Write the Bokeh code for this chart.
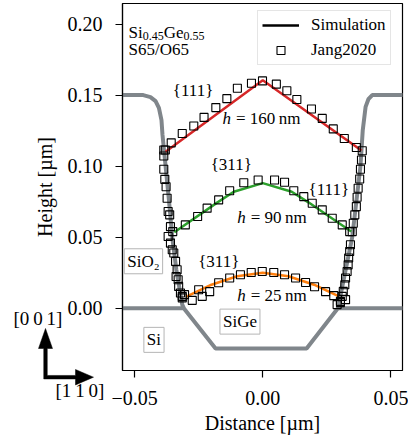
import numpy as np
from bokeh.plotting import figure
from bokeh.layouts import column
from bokeh.models import (Range1d, FixedTicker, CustomJSTickFormatter, Legend, LegendItem, Label)
from bokeh.core.properties import value
from bokeh.embed import file_html
from bokeh.resources import INLINE

# ---------------- data (µm) ----------------
oxide_left_x = [-0.0600, -0.0466, -0.0438, -0.0418, -0.0405, -0.0395, -0.0391, -0.0379, -0.0366, -0.0353, -0.0337, -0.0314, -0.0308]
oxide_left_y = [0.150, 0.150, 0.1486, 0.1458, 0.1410, 0.1324, 0.1220, 0.1000, 0.0762, 0.0500, 0.0270, 0.0025, 0.0]
oxide_right_x = [0.0293, 0.0296, 0.0349, 0.0381, 0.0390, 0.0401, 0.0412, 0.0427, 0.0600]
oxide_right_y = [0.0, 0.0025, 0.0500, 0.1000, 0.1253, 0.1417, 0.1471, 0.1500, 0.1500]
substrate_x = [-0.0600, -0.0308, -0.0184, 0.0171, 0.0293, 0.0600]
substrate_y = [0.0, 0.0, -0.0284, -0.0284, 0.0, 0.0]

sim160_x = [-0.0379, 0.0, 0.0385]
sim160_y = [0.1101, 0.1605, 0.1110]
sim90_x = [-0.0345, -0.0178, -0.0113, 0.0, 0.0113, 0.0178, 0.0345]
sim90_y = [0.0535, 0.0743, 0.0820, 0.0880, 0.0820, 0.0745, 0.0540]
sim25_x = [-0.0300, -0.0200, -0.0100, 0.0, 0.0100, 0.0200, 0.0295]
sim25_y = [0.0080, 0.0165, 0.0225, 0.0250, 0.0225, 0.0165, 0.0085]

wall_left_x = [-0.0386, -0.0386, -0.0386, -0.0382, -0.0377, -0.0373, -0.0369, -0.0363, -0.0360, -0.0351, -0.0369,
               -0.0360, -0.0353, -0.0347, -0.0340, -0.0334, -0.0338, -0.0330, -0.0328, -0.0321, -0.0314, -0.0305]
wall_left_y = [0.1113, 0.1071, 0.0978, 0.0907, 0.0855, 0.0774, 0.0680, 0.0657, 0.0574, 0.0539, 0.0504,
               0.0458, 0.0411, 0.0388, 0.0329, 0.0270, 0.0223, 0.0200, 0.0153, 0.0107, 0.0072, 0.0095]
wall_right_x = [0.0388, 0.0385, 0.0381, 0.0378, 0.0372, 0.0368, 0.0365, 0.0359, 0.0353, 0.0349, 0.0342,
                0.0339, 0.0335, 0.0333, 0.0329, 0.0323, 0.0320, 0.0314, 0.0310, 0.0303, 0.0323, 0.0290]
wall_right_y = [0.1108, 0.1043, 0.0978, 0.0909, 0.0844, 0.0781, 0.0715, 0.0657, 0.0598, 0.0539, 0.0446,
                0.0399, 0.0353, 0.0305, 0.0258, 0.0212, 0.0165, 0.0118, 0.0083, 0.0048, 0.0060, 0.0025]
exp160_x = [-0.0380, -0.0357, -0.0314, -0.0269, -0.0229, -0.0183, -0.0140, -0.0099, -0.0044, -0.0001,
            0.0053, 0.0094, 0.0133, 0.0190, 0.0232, 0.0275, 0.0318, 0.0365]
exp160_y = [0.1113, 0.1164, 0.1230, 0.1282, 0.1343, 0.1412, 0.1475, 0.1548, 0.1584, 0.1600,
            0.1577, 0.1531, 0.1469, 0.1402, 0.1336, 0.1262, 0.1195, 0.1131]
exp90_x = [-0.0302, -0.0254, -0.0217, -0.0172, -0.0129, -0.0074, -0.0018, 0.0046, 0.0085, 0.0121,
           0.0160, 0.0193, 0.0232, 0.0271, 0.0310, 0.0339]
exp90_y = [0.0586, 0.0645, 0.0704, 0.0762, 0.0827, 0.0883, 0.0902, 0.0902, 0.0886, 0.0827,
           0.0785, 0.0739, 0.0692, 0.0633, 0.0586, 0.0539]
exp25_x = [-0.0314, -0.0275, -0.0250, -0.0236, -0.0207, -0.0172, -0.0129, -0.0087, -0.0045, -0.0002,
           0.0043, 0.0085, 0.0128, 0.0167, 0.0202, 0.0245, 0.0277, 0.0303]
exp25_y = [0.0083, 0.0055, 0.0130, 0.0083, 0.0116, 0.0179, 0.0212, 0.0235, 0.0251, 0.0258,
           0.0251, 0.0235, 0.0212, 0.0181, 0.0151, 0.0116, 0.0088, 0.0039]

x_ticks = [-0.05, 0.0, 0.05]
y_ticks = [0.0, 0.05, 0.10, 0.15, 0.20]
orient_labels = ["[0\u20090\u20091]", "[1\u20091\u20090]"]

SERIF = "Liberation Serif"
GRAY = "#80868b"

X0, X1 = -0.0547, 0.0545
Y0, Y1 = -0.0439, 0.2145
W, H = 408, 436
ML, MR, MT, MB = 122, 6, 3, 65

p = figure(width=W, height=H, output_backend="svg", toolbar_location=None,
           x_range=Range1d(X0, X1), y_range=Range1d(Y0, Y1),
           min_border_left=ML, min_border_right=MR, min_border_top=MT, min_border_bottom=MB)
p.background_fill_color = "white"
p.border_fill_color = "white"
p.outline_line_color = "black"
p.outline_line_width = 1.2
p.xgrid.visible = False
p.ygrid.visible = False

fmt = CustomJSTickFormatter(code="return tick.toFixed(2).replace('-', '\u2212');")
for ax, ticks in ((p.xaxis, x_ticks), (p.yaxis, y_ticks)):
    ax.ticker = FixedTicker(ticks=ticks)
    ax.formatter = fmt
    ax.major_label_text_font = SERIF
    ax.major_label_text_font_size = "20px"
    ax.major_label_text_color = "black"
    ax.axis_label_text_font = SERIF
    ax.axis_label_text_font_size = "20px"
    ax.axis_label_text_font_style = "normal"
    ax.axis_label_text_color = "black"
    ax.major_tick_out = 7
    ax.major_tick_in = 0
    ax.minor_tick_line_color = None
    ax.axis_line_width = 1.2
    ax.major_tick_line_width = 1.2
p.xaxis.axis_label = "Distance [µm]"
p.yaxis.axis_label = "Height [µm]"
p.xaxis.major_label_standoff = 13
p.xaxis.axis_label_standoff = 4
p.yaxis.major_label_standoff = 13
p.yaxis.axis_label_standoff = 9

# geometry
p.line(oxide_left_x, oxide_left_y, color=GRAY, line_width=4)
p.line(oxide_right_x, oxide_right_y, color=GRAY, line_width=4)
p.line(substrate_x, substrate_y, color=GRAY, line_width=4)

# simulation
p.line(sim160_x, sim160_y, color="#d62728", line_width=2.5)
p.line(sim90_x, sim90_y, color="#2ca02c", line_width=2.5)
p.line(sim25_x, sim25_y, color="#ff7f0e", line_width=2.5)
sim_legend = p.line([np.nan, np.nan], [np.nan, np.nan], color="black", line_width=2.5)

# experiment
mk = dict(marker="square", size=8, line_color="black", line_width=1.1, fill_alpha=0)
exp_r = None
for xs, ys in ((wall_left_x, wall_left_y), (wall_right_x, wall_right_y), (exp160_x, exp160_y),
               (exp90_x, exp90_y), (exp25_x, exp25_y)):
    r = p.scatter(xs, ys, **mk)
    if exp_r is None:
        exp_r = r

legend = Legend(items=[LegendItem(label="Simulation", renderers=[sim_legend]),
                       LegendItem(label="Jang2020", renderers=[exp_r])],
                location=(135, 305), margin=0, padding=4, spacing=5,
                glyph_width=37, glyph_height=20, label_height=20, label_standoff=12,
                label_text_font=SERIF, label_text_font_size="17px", label_text_color="black",
                border_line_color="#cccccc", border_line_width=1,
                background_fill_color="white", background_fill_alpha=0.85)
p.add_layout(legend, "center")

FS = "17px"


def lab(x, y, text, size=FS, style="normal", align="left", xo=0, yo=0, **kw):
    p.add_layout(Label(x=x, y=y, text=text, text_font=SERIF, text_font_size=size,
                       text_font_style=style, text_align=align, text_baseline="middle",
                       x_offset=xo, y_offset=yo, text_color="black", **kw))


lab(-0.05238, 0.1944, "Si")
lab(-0.05238, 0.1944, "0.45", size="12px", xo=14.2, yo=-4)
lab(-0.05238, 0.1944, "Ge", xo=35.2)
lab(-0.05238, 0.1944, "0.55", size="12px", xo=55, yo=-4)
lab(-0.05238, 0.1822, "S65/O65")

lab(-0.0272, 0.1534, "{111}", align="center")
lab(-0.01572, 0.1336, "h", style="italic")
lab(-0.01572, 0.1336, "= 160\u2009nm", xo=13.5)
lab(-0.01229, 0.1008, "{311}", align="center")
lab(0.02574, 0.0837, "{111}", align="center")
lab(-0.00998, 0.0638, "h", style="italic")
lab(-0.00998, 0.0638, "= 90\u2009nm", xo=13.5)
lab(-0.01716, 0.0329, "{311}", align="center")
lab(-0.00998, 0.0088, "h", style="italic")
lab(-0.00998, 0.0088, "= 25\u2009nm", xo=13.5)

box = dict(background_fill_color="white", border_line_color="#b5b5b5", border_line_width=1, padding=3)
lab(-0.04653, 0.0330, "SiO\u2082", align="center", **box)
lab(-0.00889, -0.00948, "SiGe", align="center", **box)
lab(-0.04243, -0.02233, "Si", align="center", **box)

# ---- crystal orientation indicator: transparent full-width overlay in the same data scale ----
sx_per = (W - ML - MR) / (X1 - X0)
sy_per = (H - MT - MB) / (Y1 - Y0)


def px2d(px, py):
    return X0 + (px - ML) / sx_per, Y1 - (py - MT) / sy_per


OV_Y, OV_H = 305, 95
ov_x0, ov_y1 = px2d(0, OV_Y)
ov_x1, ov_y0 = px2d(W, OV_Y + OV_H)
ov = figure(width=W, height=OV_H, output_backend="svg", toolbar_location=None,
            x_range=Range1d(ov_x0, ov_x1), y_range=Range1d(ov_y0, ov_y1),
            x_axis_type=None, y_axis_type=None,
            min_border=0, min_border_left=0, min_border_right=0, min_border_top=0, min_border_bottom=0,
            margin=(OV_Y - H, 0, 0, 0))
for fig in (p, ov):
    if hasattr(fig, "frame_align"):
        fig.frame_align = False
ov.outline_line_color = None
ov.background_fill_alpha = 0
ov.border_fill_alpha = 0
ov.xgrid.visible = False
ov.ygrid.visible = False

arrow_px = [(43.25, 378.45), (43.25, 348), (38, 348), (45, 328), (52, 348), (46.75, 348),
            (46.75, 374.95), (75, 374.95), (75, 369), (93, 376.7), (75, 384.4), (75, 378.45)]
axy = [px2d(a, b) for a, b in arrow_px]
ov.patch([a for a, _ in axy], [b for _, b in axy], fill_color="black", line_color="black", line_width=0.5)

lab_pos = [px2d(13, 318), px2d(55, 390)]
ov.text(x=[a for a, _ in lab_pos], y=[b for _, b in lab_pos], text=orient_labels,
        text_font=value(SERIF), text_font_size="19px", text_baseline="middle", text_align="left",
        text_color="black")

layout = column(p, ov, spacing=0)
open("out.html", "w").write(file_html(layout, INLINE))
